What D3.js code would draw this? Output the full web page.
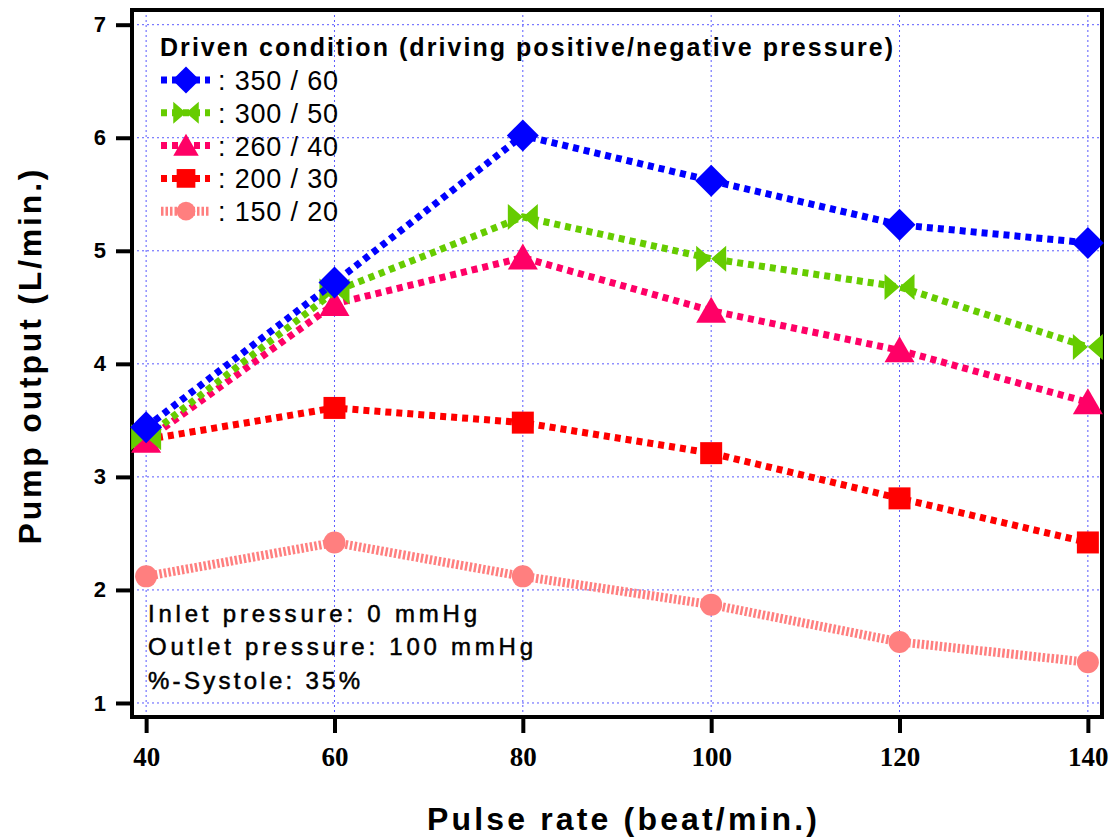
<!DOCTYPE html>
<html>
<head>
<meta charset="utf-8">
<script src="https://cdn.jsdelivr.net/npm/d3@7"></script>
<style>
  body { margin: 0; background: #fff; }
  svg { display: block; }
</style>
</head>
<body>
<script>
// pump output vs pulse rate, five driving conditions

var width = 1117;
var height = 840;

var pulseRates = [40, 60, 80, 100, 120, 140];
var yTicks = [1, 2, 3, 4, 5, 6, 7];

var seriesNames = [": 350 / 60", ": 300 / 50", ": 260 / 40", ": 200 / 30", ": 150 / 20"];
var out350 = [3.44, 4.72, 6.02, 5.62, 5.23, 5.07];
var out300 = [3.35, 4.64, 5.30, 4.93, 4.68, 4.15];
var out260 = [3.32, 4.53, 4.94, 4.47, 4.12, 3.66];
var out200 = [3.33, 3.61, 3.48, 3.21, 2.81, 2.42];
var out150 = [2.12, 2.42, 2.12, 1.87, 1.54, 1.36];

var notes = ["Inlet pressure: 0 mmHg", "Outlet pressure: 100 mmHg", "%-Systole: 35%"];
var noteWidths = [329, 385, 212]; // measured text lengths in the picture

var series = [
  { name: seriesNames[0], values: out350, color: "#0000ff", shape: "diamond", dash: "6,5", lw: 7 },
  { name: seriesNames[1], values: out300, color: "#66cc00", shape: "bowtie", dash: "6,5", lw: 7 },
  { name: seriesNames[2], values: out260, color: "#ff0066", shape: "triangle", dash: "6,5", lw: 7 },
  { name: seriesNames[3], values: out200, color: "#ff0000", shape: "square", dash: "6,5", lw: 7 },
  { name: seriesNames[4], values: out150, color: "#ff7f7f", shape: "circle", dash: "2.5,2", lw: 9 }
];

var plot = { left: 132, right: 1102, top: 10, bottom: 717 };
var sans = "Liberation Sans, Arial, sans-serif";

var xScale = d3.scaleLinear()
               .domain([38.5, 141.5])
               .range([plot.left, plot.right]);

var yScale = d3.scaleLinear()
               .domain([0.876, 7.13])
               .range([plot.bottom, plot.top]);

var svg = d3.select("body")
            .append("svg")
            .attr("width", width)
            .attr("height", height);

// grid
svg.append("g")
   .selectAll("line")
   .data(pulseRates)
   .enter()
   .append("line")
   .attr("x1", function(d){ return xScale(d); })
   .attr("x2", function(d){ return xScale(d); })
   .attr("y1", plot.top)
   .attr("y2", plot.bottom)
   .attr("stroke", "#5a5aff")
   .attr("stroke-width", 1)
   .attr("stroke-dasharray", "2,3");

svg.append("g")
   .selectAll("line")
   .data(yTicks)
   .enter()
   .append("line")
   .attr("x1", plot.left)
   .attr("x2", plot.right)
   .attr("y1", function(d){ return yScale(d); })
   .attr("y2", function(d){ return yScale(d); })
   .attr("stroke", "#5a5aff")
   .attr("stroke-width", 1)
   .attr("stroke-dasharray", "2,3");

// axes
var xAxis = d3.axisBottom(xScale)
              .tickValues(pulseRates)
              .tickFormat(d3.format("d"))
              .tickSize(16)
              .tickPadding(14);

var yAxis = d3.axisLeft(yScale)
                .tickValues(yTicks)
                .tickFormat(d3.format("d"))
                .tickSize(16)
                .tickPadding(10);

var gx = svg.append("g")
   .attr("transform", "translate(0," + plot.bottom + ")")
   .call(xAxis);
gx.select(".domain").remove();
gx.selectAll("line").attr("stroke", "#000").attr("stroke-width", 4);
gx.selectAll("text")
  .attr("font-family", "Liberation Serif, serif")
  .attr("font-weight", "bold")
  .attr("font-size", "27px")
  .attr("fill", "#000");

var gy = svg.append("g")
   .attr("transform", "translate(" + plot.left + ",0)")
   .call(yAxis);
gy.select(".domain").remove();
gy.selectAll("line").attr("stroke", "#000").attr("stroke-width", 4);
gy.selectAll("text")
  .attr("font-family", sans)
  .attr("font-weight", "bold")
  .attr("font-size", "22px")
  .attr("fill", "#000");

// frame
svg.append("rect")
   .attr("x", plot.left)
   .attr("y", plot.top)
   .attr("width", plot.right - plot.left)
   .attr("height", plot.bottom - plot.top)
   .attr("fill", "none")
   .attr("stroke", "#000")
   .attr("stroke-width", 4);

// marker paths centred on 0,0
function markerPath(shape){
  if (shape === "diamond") return "M0,-16L16,0L0,16L-16,0Z";
  if (shape === "bowtie") return "M-15,-13L0,0L-15,13Z M15,-13L0,0L15,13Z";
  if (shape === "triangle") return "M0,-14L15,12L-15,12Z";
  if (shape === "square") return "M-11,-11H11V11H-11Z";
  return d3.symbol().type(d3.symbolCircle).size(380)();
}

var line = d3.line()
             .x(function(d, i){ return xScale(pulseRates[i]); })
             .y(function(d){ return yScale(d); });

// draw bottom series first
series.slice().reverse().forEach(function(s){
  svg.append("path")
     .datum(s.values)
     .attr("d", line)
     .attr("fill", "none")
     .attr("stroke", s.color)
     .attr("stroke-width", s.lw)
     .attr("stroke-dasharray", s.dash);

  svg.append("g")
     .selectAll("path")
     .data(s.values)
     .enter()
     .append("path")
     .attr("d", markerPath(s.shape))
     .attr("transform", function(d, i){
       return "translate(" + xScale(pulseRates[i]) + "," + yScale(d) + ")";
     })
     .attr("fill", s.color);
});

// legend
var legend = svg.append("g");
legend.append("text")
      .attr("x", 160)
      .attr("y", 56)
      .attr("font-family", sans)
      .attr("font-weight", "bold")
      .attr("font-size", "25px")
      .attr("textLength", 733)
      .attr("lengthAdjust", "spacing")
      .text("Driven condition (driving positive/negative pressure)");

series.forEach(function(s, i){
  var cy = 80 + i * 32.8;
  legend.append("line")
        .attr("x1", 161)
        .attr("x2", 210)
        .attr("y1", cy)
        .attr("y2", cy)
        .attr("stroke", s.color)
        .attr("stroke-width", s.lw)
        .attr("stroke-dasharray", s.dash);
  legend.append("path")
        .attr("d", markerPath(s.shape))
        .attr("transform", "translate(186," + cy + ") scale(0.85)")
        .attr("fill", s.color);
  legend.append("text")
        .attr("x", 218)
        .attr("y", cy + 10)
        .attr("font-family", sans)
        .attr("font-size", "27px")
        .attr("textLength", 120)
        .attr("lengthAdjust", "spacing")
        .text(s.name);
});

// notes
svg.append("g")
   .selectAll("text")
   .data(notes)
   .enter()
   .append("text")
   .attr("x", 148)
   .attr("y", function(d, i){ return 622 + i * 33.3; })
   .attr("font-family", sans)
   .attr("font-size", "24px")
   .attr("textLength", function(d, i){ return noteWidths[i]; })
   .attr("lengthAdjust", "spacing")
   .attr("fill", "#000")
   .attr("stroke", "#000")
   .attr("stroke-width", 0.5)
   .text(function(d){ return d; });

// axis titles
svg.append("text")
   .attr("x", 622)
   .attr("y", 830)
   .attr("text-anchor", "middle")
   .attr("font-family", sans)
   .attr("font-weight", "bold")
   .attr("font-size", "32px")
   .attr("textLength", 390)
   .attr("lengthAdjust", "spacing")
   .text("Pulse rate (beat/min.)");

svg.append("text")
   .attr("transform", "translate(41,357) rotate(-90)")
   .attr("text-anchor", "middle")
   .attr("font-family", sans)
   .attr("font-weight", "bold")
   .attr("font-size", "32px")
   .attr("textLength", 375)
   .attr("lengthAdjust", "spacing")
   .text("Pump output (L/min.)");
</script>
</body>
</html>
